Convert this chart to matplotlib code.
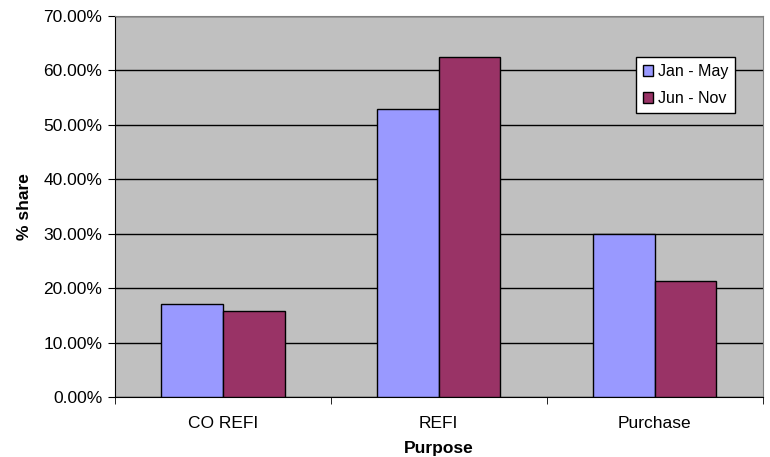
import matplotlib.pyplot as plt
from matplotlib.ticker import FuncFormatter, FixedLocator
import numpy as np

plt.rcParams['font.family'] = ['Liberation Sans', 'DejaVu Sans']

categories = ['CO REFI', 'REFI', 'Purchase']
series_names = ['Jan - May', 'Jun - Nov']
jan_may = [17.0, 53.0, 30.0]
jun_nov = [15.8, 62.4, 21.4]
colors = ['#9999FF', '#993366']

fig = plt.figure(figsize=(7.7, 4.57), dpi=100)
ax = fig.add_axes([115 / 770, 1 - 397 / 457, (762.6 - 115) / 770, (397 - 16) / 457])
ax.set_facecolor('#C0C0C0')

x = np.arange(len(categories))
w = 1 / 3.5
ax.bar(x - w / 2, jan_may, w, color=colors[0], edgecolor='black', linewidth=1,
       label=series_names[0], zorder=3)
ax.bar(x + w / 2, jun_nov, w, color=colors[1], edgecolor='black', linewidth=1,
       label=series_names[1], zorder=3)

ax.set_xlim(-0.5, 2.5)
ax.set_ylim(0, 70)
ax.set_yticks(np.arange(0, 71, 10))
ax.yaxis.set_major_formatter(FuncFormatter(lambda v, p: f'{v:.2f}%'))
ax.yaxis.grid(True, color='black', linewidth=1, zorder=1)
ax.set_axisbelow(True)

ax.set_xticks(x)
ax.set_xticklabels(categories)
ax.xaxis.set_minor_locator(FixedLocator([-0.5, 0.5, 1.5, 2.5]))
ax.tick_params(axis='x', which='major', length=0, pad=14, labelsize=12.5)
ax.tick_params(axis='x', which='minor', length=5, direction='out', color='black')
ax.tick_params(axis='y', length=5, direction='out', pad=4, labelsize=12.5)

for s in ['top', 'right']:
    ax.spines[s].set_color('#808080')
for s in ['left', 'bottom']:
    ax.spines[s].set_color('black')

ax.set_xlabel('Purpose', fontsize=12.5, fontweight='bold', labelpad=7)
ax.set_ylabel('% share', fontsize=12.5, fontweight='bold', labelpad=8)

leg = ax.legend(loc='upper left', bbox_to_anchor=(636 / 770, 1 - 57 / 457),
                bbox_transform=fig.transFigure, fontsize=11.5, frameon=True,
                fancybox=False, borderaxespad=0, handlelength=0.6,
                handleheight=0.6, handletextpad=0.3, labelspacing=0.75,
                borderpad=0.45)
leg.get_frame().set_edgecolor('black')
leg.get_frame().set_linewidth(1)
leg.get_frame().set_alpha(1)

fig.savefig('out.png', dpi=100)
